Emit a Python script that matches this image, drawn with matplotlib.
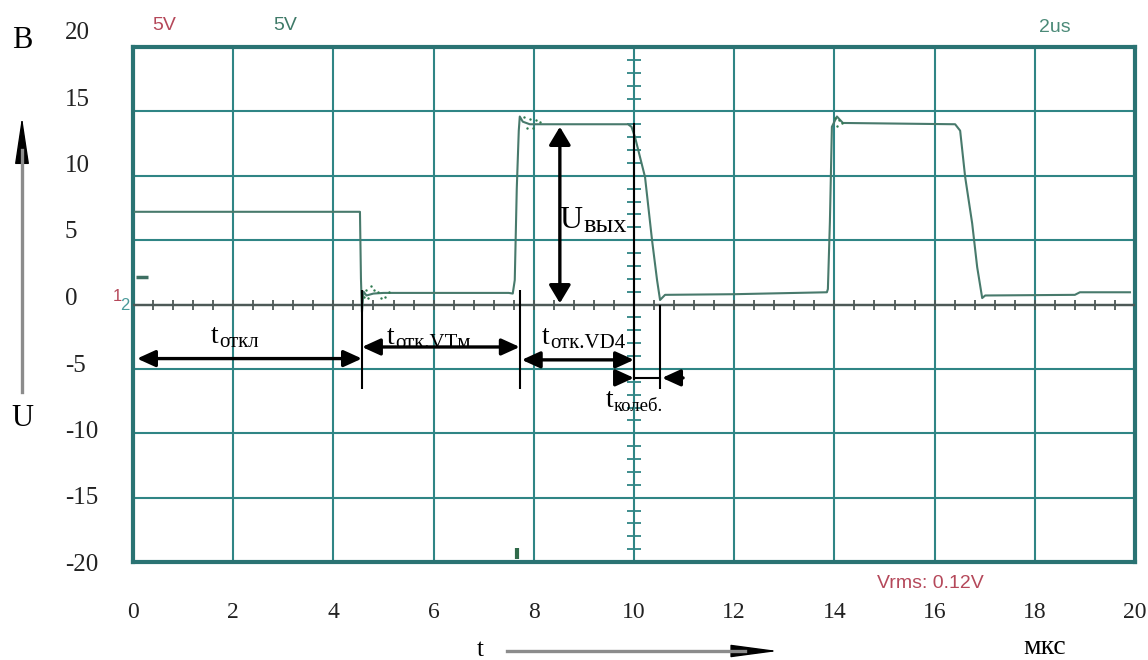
import numpy as np
import matplotlib
matplotlib.use("Agg")
import matplotlib.pyplot as plt
from matplotlib.transforms import blended_transform_factory
from matplotlib.patches import FancyArrowPatch
from matplotlib.lines import Line2D

# ---------------- data ----------------
x_ticks = [0, 2, 4, 6, 8, 10, 12, 14, 16, 18, 20]          # time, us
y_ticks = [20, 15, 10, 5, 0, -5, -10, -15, -20]            # voltage, V

# channel 1 trace (time in us, voltage in V)
ch1_t = [0.04, 4.53, 4.55, 4.57, 4.60, 4.66, 4.80, 5.00, 6.50, 7.50, 7.58,
         7.62, 7.66, 7.70, 7.72, 7.78, 7.92, 8.50, 9.88, 9.95, 10.02, 10.22,
         10.36, 10.46, 10.52, 10.62, 12.00, 13.85, 13.87, 13.91, 13.95, 14.05,
         14.17, 16.41, 16.51, 16.61, 16.75, 16.85, 16.95, 17.01, 18.80, 18.90,
         19.90]
ch1_v = [7.2, 7.2, 2.0, -0.6, 1.0, 0.7, 0.85, 0.9, 0.9, 0.9, 0.85,
         1.9, 9.0, 13.5, 14.6, 14.2, 14.0, 14.0, 14.0, 13.8, 13.0, 9.9,
         5.0, 1.9, 0.35, 0.75, 0.8, 0.95, 1.2, 6.4, 13.8, 14.6,
         14.1, 14.0, 13.5, 9.9, 6.3, 2.9, 0.5, 0.7, 0.75, 0.95,
         0.95]

# ringing dots right after the switching edges
ring_t = [4.62, 4.66, 4.70, 4.75, 4.82, 4.89, 4.95, 5.02, 5.10,
          7.80, 7.86, 7.92, 7.98, 8.05, 8.12, 14.02, 14.06, 14.10, 14.15]
ring_v = [0.6, 1.1, 0.5, 1.45, 1.1, 0.95, 0.5, 0.6, 0.95,
          14.6, 13.7, 14.4, 13.7, 14.3, 14.2, 14.5, 13.9, 14.3, 14.1]

# channel 2 trace (flat at zero)
ch2_t = [0, 20]
ch2_v = [0, 0]

# event times used by the annotations (us)
t_start, t_off, t_vt, t_vd, t_osc = 0.08, 4.57, 7.72, 10.0, 10.52
u_low, u_high = 0.1, 13.8          # levels of the U_вых arrow
trig_t = 7.66                      # trigger marker

# ---------------- styling ----------------
GRID = "#2f8585"
BORDER = "#2a7373"
TRACE = "#487a6c"
DOTS = "#2f7a50"
CH2 = "#4d5957"
RED = "#b5485a"
GREEN_TXT = "#3f7a68"
SERIF = "Liberation Serif"
SANS = "Liberation Sans"

W, H = 1148, 660
fig = plt.figure(figsize=(W / 100, H / 100), dpi=100)
fig.patch.set_facecolor("white")


def fx(px):
    return px / W


def fy(py):
    return 1 - py / H


ax = fig.add_axes([fx(133), fy(562), fx(1135) - fx(133), fy(47) - fy(562)])
ax.set_xlim(0, 20)
ax.set_ylim(-20, 20)
ax.set_xticks(x_ticks)
ax.set_yticks(y_ticks)
ax.tick_params(length=0, labelbottom=False, labelleft=False)
ax.grid(True, color=GRID, lw=1.5)
ax.set_axisbelow(True)
for s in ax.spines.values():
    s.set_color(BORDER)
    s.set_linewidth(3)

# centre graticule ticks
minor_x = np.arange(0, 20.001, 0.4)
ax.plot(minor_x, np.zeros_like(minor_x), ls="none", marker="|", ms=7,
        mew=1.3, color=CH2, zorder=2)
minor_y = np.arange(-20, 20.001, 1.0)
ax.plot(np.full_like(minor_y, 10.0), minor_y, ls="none", marker="_", ms=10,
        mew=1.3, color=GRID, zorder=2)

# traces
ax.plot(ch2_t, ch2_v, color=CH2, lw=1.7, zorder=3)
ax.plot(ch1_t, ch1_v, color=TRACE, lw=1.5, zorder=4)
ax.scatter(ring_t, ring_v, s=3, color=DOTS, zorder=4, linewidths=0)
ax.plot([0.18], [2.15], marker="_", ms=8, mew=2.5, color="#3d6f62", zorder=4)
ax.plot([trig_t, trig_t], [-18.9, -19.75], color="#2f6a4a", lw=3,
        solid_capstyle="butt", zorder=4)

# ---------------- annotations ----------------
K = "black"
vl = dict(color=K, lw=1.5, zorder=6, solid_capstyle="butt")
ax.plot([t_off, t_off], [1.1, -6.6], **vl)
ax.plot([t_vt, t_vt], [1.1, -6.6], **vl)
ax.plot([t_vd, t_vd], [14.1, -5.9], **vl)
ax.plot([t_osc, t_osc], [0.0, -6.6], **vl)


def darrow(x0, y0, x1, y1, hw=0.25, hl=0.55, style="<|-|>"):
    ax.annotate("", xy=(x1, y1), xytext=(x0, y0),
                arrowprops=dict(arrowstyle=f"{style},head_length={hl},head_width={hw}",
                                mutation_scale=20, color=K, lw=2.4,
                                shrinkA=0, shrinkB=0), zorder=7)


darrow(t_start, -4.2, t_off, -4.2)
darrow(t_off, -3.3, t_vt, -3.3)
darrow(t_vt + 0.04, -4.3, t_vd, -4.3)
darrow(8.52, u_high, 8.52, u_low, hw=0.33)
# t_колеб: inward arrows
ax.plot([t_vd, t_osc], [-5.7, -5.7], color=K, lw=1.5, zorder=6)
darrow(t_vd - 0.34, -5.7, t_vd, -5.7, style="-|>")
darrow(t_osc + 0.46, -5.7, t_osc + 0.04, -5.7, style="-|>")


def sub_label(x, y, main, sub, s_main, s_sub, dy=1.5):
    t = ax.text(x, y, main, fontsize=s_main, family=SERIF, ha="left",
                va="baseline", zorder=8)
    ax.annotate(sub, xy=(1, 0), xycoords=t, xytext=(0.3, dy),
                textcoords="offset points", fontsize=s_sub, family=SERIF,
                ha="left", va="baseline", zorder=8)


sub_label(1.56, -2.99, "t", "откл", 20, 15)
sub_label(5.07, -3.05, "t", "отк.VTм", 20, 15)
sub_label(8.16, -3.07, "t", "отк.VD4", 20, 15)
sub_label(9.44, -7.96, "t", "колеб.", 20, 13.5)
sub_label(8.52, 5.94, "U", "вых", 23, 19, dy=2.5)

# ---------------- tick labels ----------------
lab = fig.add_axes([fx(133), fy(565), fx(1135) - fx(133), fy(33) - fy(565)])
lab.set_ylim(-20, 20)
lab.axis("off")
ytr = blended_transform_factory(fig.transFigure, lab.transData)
for v in y_ticks:
    fig.text(fx(65), v, f"{v}", transform=ytr, ha="left", va="center",
             fontsize=18, family=SERIF, color="#222222")

xtr = blended_transform_factory(ax.transData, fig.transFigure)
for v in x_ticks:
    ax.text(v, fy(613), f"{v}", transform=xtr, ha="center", va="center",
            fontsize=17, family=SERIF, color="#222222")

# oscilloscope read-outs
fig.text(fx(164), fy(26), "5V", color=RED, fontsize=14, family=SANS,
         ha="center", va="center")
fig.text(fx(285), fy(26), "5V", color=GREEN_TXT, fontsize=14, family=SANS,
         ha="center", va="center")
fig.text(fx(1055), fy(28), "2us", color="#4b8a78", fontsize=14, family=SANS,
         ha="center", va="center")
fig.text(fx(930), fy(583), "Vrms: 0.12V", color=RED, fontsize=14,
         family=SANS, ha="center", va="center")
fig.text(fx(117), fy(297), "1", color=RED, fontsize=12, family=SANS,
         ha="center", va="center")
fig.text(fx(125), fy(306), "2", color="#4a9a9a", fontsize=12, family=SANS,
         ha="center", va="center")

# axis names and arrows
fig.text(fx(22), fy(40), "B", fontsize=22, family=SERIF, ha="center",
         va="center")
fig.text(fx(22), fy(418), "U", fontsize=22, family=SERIF, ha="center",
         va="center")
fig.text(fx(480), fy(650), "t", fontsize=18, family=SERIF, ha="center",
         va="center")
fig.text(fx(1045), fy(648), "мкс", fontsize=20, family=SERIF, ha="center",
         va="center")

fig.add_artist(Line2D([fx(22), fx(22)], [fy(392), fy(150)], color="#8c8c8c",
                      lw=2.4, transform=fig.transFigure))
fig.add_artist(FancyArrowPatch(posA=(fx(22), fy(165)), posB=(fx(22), fy(117)),
                               transform=fig.transFigure,
                               arrowstyle="-|>,head_length=3.0,head_width=0.45",
                               mutation_scale=10, color="black", lw=1,
                               shrinkA=0, shrinkB=0))
fig.add_artist(Line2D([fx(507), fx(745)], [fy(651), fy(651)], color="#8c8c8c",
                      lw=2.4, transform=fig.transFigure))
fig.add_artist(FancyArrowPatch(posA=(fx(730), fy(651)), posB=(fx(778), fy(651)),
                               transform=fig.transFigure,
                               arrowstyle="-|>,head_length=3.0,head_width=0.4",
                               mutation_scale=10, color="black", lw=1,
                               shrinkA=0, shrinkB=0))

fig.savefig("out.png", dpi=100, facecolor="white")
